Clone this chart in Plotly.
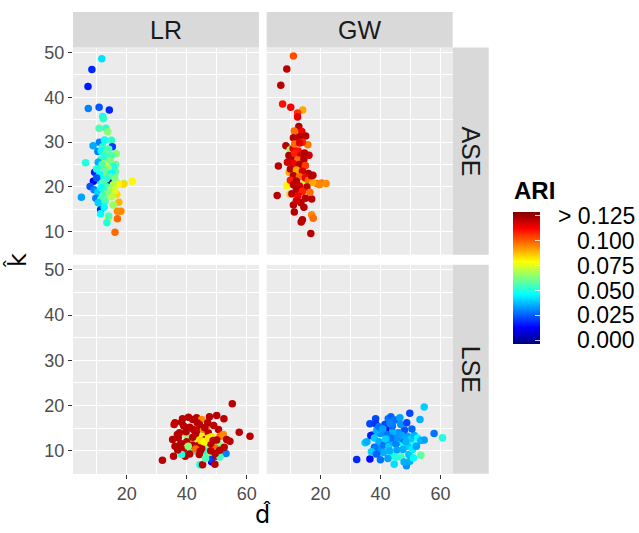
import plotly.graph_objects as go

W, H = 639, 533

# ---------------- data ----------------
facet_cols = ["LR", "GW"]
facet_rows = ["ASE", "LSE"]

lr_ase_d = [11.7, 8.4, 7.1, 7.2, 10.8, 14.2, 12.0, 12.2, 10.8, 13.1, 13.7, 10.9, 12.6, 14.9, 8.8, 15.2, 10.4, 13.5, 16.5, 6.3,
            11.3, 13.0, 13.0, 16.3, 12.2, 9.3, 13.5, 16.3, 12.2, 14.7, 8.9, 11.3, 16.6, 19.1, 21.9, 18.9, 17.3, 7.8, 9.1, 10.4,
            12.6, 14.1, 4.9, 9.7, 11.3, 16.7, 17.4, 11.5, 11.3, 16.9, 18.1, 11.3, 13.8, 16.9, 13.4, 16.1, 12.0, 14.0, 11.5, 13.0,
            15.0, 12.5, 10.5, 14.5, 11.8, 15.5, 13.8, 10.0, 12.8, 15.0, 11.0, 14.0, 16.0, 10.0, 13.2, 12.0, 15.5, 13.5, 11.5, 14.8,
            12.5, 16.0, 13.5, 12.0, 15.0, 10.5, 12.8, 15.5, 12.5, 14.0]
lr_ase_k = [48.6, 46.2, 42.4, 37.5, 37.8, 37.2, 35.7, 35.2, 33.1, 33.1, 32.3, 30.0, 30.5, 30.4, 29.2, 29.0, 27.9, 27.7, 27.4, 25.4,
            26.1, 25.6, 26.5, 25.0, 24.3, 23.3, 23.0, 23.4, 22.3, 21.3, 21.3, 21.3, 21.0, 20.8, 21.3, 20.6, 20.6, 20.1, 19.4, 18.9,
            20.2, 18.3, 17.7, 17.5, 17.2, 18.4, 16.6, 16.0, 14.9, 14.6, 14.6, 14.0, 12.9, 12.9, 12.0, 9.9, 29.0, 28.5, 28.0, 27.5,
            27.0, 26.8, 25.5, 25.8, 25.0, 24.5, 24.2, 24.0, 23.6, 23.0, 22.8, 22.4, 22.0, 22.0, 21.8, 21.0, 20.5, 20.0, 19.8, 19.5,
            19.0, 19.2, 18.5, 18.0, 17.8, 16.5, 16.8, 16.0, 15.5, 13.5]
lr_ase_ari = [0.042, 0.018, 0.016, 0.030, 0.024, 0.018, 0.048, 0.052, 0.056, 0.052, 0.064, 0.030, 0.048, 0.052, 0.035, 0.020, 0.030, 0.052, 0.064, 0.050,
              0.052, 0.080, 0.062, 0.058, 0.056, 0.018, 0.042, 0.058, 0.084, 0.000, 0.012, 0.046, 0.066, 0.066, 0.080, 0.084, 0.080, 0.024, 0.030, 0.040,
              0.100, 0.062, 0.034, 0.030, 0.050, 0.084, 0.088, 0.050, 0.018, 0.094, 0.094, 0.046, 0.080, 0.098, 0.050, 0.098, 0.052, 0.056, 0.046, 0.058,
              0.056, 0.052, 0.036, 0.062, 0.056, 0.050, 0.066, 0.050, 0.058, 0.046, 0.046, 0.056, 0.062, 0.024, 0.052, 0.056, 0.070, 0.056, 0.046, 0.066,
              0.052, 0.074, 0.062, 0.056, 0.070, 0.040, 0.056, 0.066, 0.046, 0.056]

gw_ase_d = [11.0, 8.8, 6.8, 7.4, 10.1, 14.1, 12.4, 12.4, 12.8, 13.8, 11.3, 15.1, 13.0, 8.5, 9.9, 10.9, 12.6, 15.8, 16.2, 6.0,
            9.6, 11.9, 8.8, 14.6, 9.9, 13.2, 5.6, 18.8, 20.4, 21.9, 17.1, 11.0, 11.3, 17.1, 17.6, 14.0, 13.6, 16.8, 9.5, 11.5,
            13.5, 10.5, 12.5, 14.5, 11.0, 13.0, 15.0, 10.0, 12.0, 14.0, 16.0, 11.0, 13.0, 15.0, 10.0, 12.0, 16.0, 17.5, 11.0, 13.0,
            15.5, 12.0, 14.0, 16.5, 10.5, 12.5, 15.0, 13.5, 12.0, 14.5, 17.0, 9.0, 12.0, 14.0, 11.0, 11.4, 13.1, 14.7, 17.5, 19.7]
gw_ase_k = [49.2, 46.3, 42.7, 38.5, 37.8, 37.2, 36.5, 35.6, 33.5, 32.4, 32.5, 31.4, 31.2, 29.2, 28.3, 28.6, 28.0, 29.4, 27.1, 24.7,
            23.3, 24.4, 20.3, 20.8, 18.4, 17.9, 18.1, 20.8, 20.9, 20.8, 17.3, 16.0, 14.4, 13.8, 13.0, 12.7, 12.2, 9.6, 27.0, 27.5,
            27.0, 26.0, 26.0, 26.2, 25.2, 25.0, 24.8, 24.0, 23.8, 23.5, 23.0, 22.5, 22.3, 22.0, 21.5, 21.3, 21.5, 21.0, 20.5, 20.2,
            20.0, 19.5, 19.0, 18.8, 18.5, 18.0, 17.5, 16.5, 17.0, 15.5, 22.5, 25.5, 30.5, 30.0, 31.0, 29.6, 29.8, 27.6, 22.6, 20.5]
gw_ase_ari = [0.102, 0.121, 0.121, 0.110, 0.113, 0.090, 0.106, 0.115, 0.121, 0.113, 0.098, 0.121, 0.121, 0.121, 0.066, 0.115, 0.110, 0.096, 0.118, 0.121,
              0.090, 0.106, 0.080, 0.070, 0.085, 0.070, 0.121, 0.098, 0.096, 0.094, 0.121, 0.121, 0.121, 0.094, 0.098, 0.121, 0.121, 0.121, 0.121, 0.108,
              0.117, 0.121, 0.098, 0.121, 0.113, 0.121, 0.104, 0.121, 0.090, 0.117, 0.121, 0.121, 0.098, 0.113, 0.108, 0.121, 0.098, 0.090, 0.121, 0.117,
              0.121, 0.121, 0.108, 0.098, 0.121, 0.113, 0.121, 0.121, 0.117, 0.121, 0.121, 0.117, 0.121, 0.108, 0.121, 0.098, 0.115, 0.121, 0.121, 0.094]

lr_lse_d = [31.9, 55.2, 57.5, 61.1, 53.1, 44.4, 48.3, 36.1, 35.8, 38.6, 38.3, 42.0, 43.3, 45.0, 47.6, 50.0, 52.4, 37.6, 37.2, 35.3,
            36.1, 35.6, 40.0, 41.3, 42.2, 43.4, 43.9, 45.0, 45.6, 47.2, 48.3, 46.5, 50.6, 51.1, 52.2, 53.3, 54.4, 50.8, 49.4, 46.1,
            41.1, 42.0, 38.9, 39.5, 38.3, 44.2, 46.7, 47.6, 48.3, 50.0, 51.1, 45.3, 49.4, 39.0, 41.0, 43.0, 47.0, 49.0, 44.0, 46.2,
            40.0, 42.0, 48.0, 50.0, 44.2, 46.0, 38.0, 42.0, 48.0, 45.0, 51.0, 41.0, 43.5, 39.8, 36.9, 40.6, 44.8, 45.8, 47.2, 43.0,
            44.5, 52.5, 49.5, 37.0, 46.3, 40.5, 48.8]
lr_lse_k = [7.9, 20.4, 14.1, 13.2, 9.4, 6.9, 7.6, 16.2, 15.8, 17.1, 16.3, 16.9, 17.3, 16.9, 17.5, 17.8, 17.1, 14.0, 12.9, 12.5,
            11.0, 8.8, 13.4, 11.9, 14.7, 14.5, 12.6, 13.1, 14.7, 14.0, 13.1, 15.3, 14.7, 13.2, 13.6, 12.5, 12.1, 11.4, 10.6, 11.0,
            10.3, 9.9, 10.3, 8.8, 9.2, 9.2, 9.7, 9.0, 8.1, 8.8, 8.6, 6.9, 7.0, 15.5, 15.2, 13.8, 16.2, 15.6, 11.2, 12.5,
            12.0, 11.2, 11.6, 12.4, 15.8, 15.1, 11.6, 13.0, 10.0, 10.5, 10.1, 9.3, 16.2, 14.2, 13.6, 17.4, 12.2, 12.0, 12.8, 10.4,
            9.9, 10.8, 9.4, 10.2, 8.3, 11.0, 12.3]
lr_lse_ari = [0.121, 0.121, 0.121, 0.121, 0.030, 0.050, 0.012, 0.121, 0.119, 0.121, 0.121, 0.121, 0.121, 0.094, 0.121, 0.121, 0.121, 0.121, 0.121, 0.121,
              0.121, 0.121, 0.064, 0.088, 0.121, 0.119, 0.080, 0.080, 0.094, 0.121, 0.082, 0.098, 0.121, 0.098, 0.094, 0.121, 0.121, 0.064, 0.098, 0.064,
              0.062, 0.050, 0.121, 0.121, 0.050, 0.121, 0.050, 0.064, 0.020, 0.121, 0.054, 0.121, 0.121, 0.121, 0.121, 0.121, 0.121, 0.121, 0.121, 0.121,
              0.121, 0.121, 0.121, 0.121, 0.121, 0.121, 0.121, 0.121, 0.121, 0.121, 0.121, 0.121, 0.121, 0.121, 0.121, 0.121, 0.084, 0.080, 0.082, 0.098,
              0.121, 0.121, 0.121, 0.121, 0.056, 0.064, 0.121]

gw_lse_d = [32.1, 54.6, 60.7, 57.9, 49.8, 53.2, 53.5, 44.6, 48.7, 49.8, 36.5, 38.4, 38.4, 42.6, 43.5, 44.9, 46.5, 42.1, 42.4, 36.5,
            34.9, 37.6, 47.1, 43.7, 46.9, 35.5, 36.8, 38.0, 39.5, 40.0, 41.2, 42.8, 44.0, 45.2, 46.3, 47.8, 49.0, 50.2, 51.3, 52.4,
            53.5, 54.6, 48.0, 46.0, 44.0, 42.0, 40.0, 38.8, 50.5, 51.5, 49.2, 45.5, 43.0, 41.0, 39.0, 38.0, 37.0, 47.5, 49.5, 51.0,
            45.0, 42.5, 40.0, 47.9, 44.0, 41.5, 43.2, 46.8, 39.5, 48.8, 50.7, 44.8, 45.9, 43.5, 41.8, 48.5, 52.0, 38.6, 47.2, 40.8]
gw_lse_k = [8.1, 19.7, 12.9, 13.8, 18.3, 16.9, 9.0, 7.0, 6.7, 7.7, 16.0, 17.1, 16.0, 17.1, 17.5, 16.8, 17.3, 14.6, 12.3, 8.2,
            11.8, 13.6, 11.8, 9.0, 8.6, 12.0, 13.4, 12.8, 12.0, 10.5, 11.3, 11.0, 12.0, 11.5, 12.7, 12.5, 13.2, 12.6, 13.4, 12.8,
            12.3, 12.4, 14.6, 14.0, 14.2, 13.6, 13.8, 14.6, 14.8, 11.2, 11.0, 10.2, 10.0, 9.6, 9.4, 10.8, 9.8, 10.3, 9.2, 8.4,
            8.5, 8.3, 8.0, 7.5, 15.5, 15.8, 16.2, 15.8, 15.3, 16.2, 10.3, 13.2, 13.0, 12.8, 12.6, 12.0, 11.0, 9.3, 13.4, 14.8]
gw_lse_ari = [0.018, 0.040, 0.050, 0.028, 0.022, 0.036, 0.058, 0.042, 0.032, 0.036, 0.022, 0.022, 0.020, 0.028, 0.026, 0.028, 0.034, 0.014, 0.016, 0.014,
              0.040, 0.036, 0.046, 0.046, 0.054, 0.036, 0.016, 0.040, 0.036, 0.032, 0.028, 0.040, 0.036, 0.030, 0.036, 0.026, 0.034, 0.040, 0.036, 0.046,
              0.036, 0.034, 0.024, 0.032, 0.036, 0.028, 0.032, 0.036, 0.026, 0.046, 0.040, 0.034, 0.036, 0.036, 0.032, 0.028, 0.040, 0.036, 0.038, 0.046,
              0.050, 0.034, 0.028, 0.036, 0.028, 0.022, 0.030, 0.032, 0.028, 0.022, 0.044, 0.036, 0.032, 0.028, 0.040, 0.036, 0.034, 0.026, 0.034, 0.034]

x_ticks = [20, 40, 60]
x_minor = [10, 30, 50]
y_ticks = [10, 20, 30, 40, 50]
y_minor = [15, 25, 35, 45]
x_range = [2.1, 64.1]
y_range = [4.9, 51.1]

ari_ticks = [0.000, 0.025, 0.050, 0.075, 0.100, 0.125]
ari_labels = ["0.000", "0.025", "0.050", "0.075", "0.100", "> 0.125"]
ari_min, ari_max = -0.0034, 0.1283
jet = ["#00007F", "#0000FF", "#007FFF", "#00FFFF", "#7FFF7F", "#FFFF00", "#FF7F00", "#FF0000", "#7F0000"]

# ---------------- layout geometry (pixels) ----------------
col_px = [(73.0, 259.0), (266.7, 452.7)]
row_px = [(43.0, 252.0), (262.3, 473.3)]
strip_top = (7.0, 43.0)
strip_right = (452.7, 488.7)

def fx(p):
    return p / W

def fy(p):
    return 1 - p / H

font_fam = "Liberation Sans, Arial, sans-serif"
title_fam = "DejaVu Sans, Liberation Sans, sans-serif"

panels = [
    (0, 0, lr_ase_d, lr_ase_k, lr_ase_ari),
    (0, 1, gw_ase_d, gw_ase_k, gw_ase_ari),
    (1, 0, lr_lse_d, lr_lse_k, lr_lse_ari),
    (1, 1, gw_lse_d, gw_lse_k, gw_lse_ari),
]

fig = go.Figure()
layout_axes = {}
for i, (r, c, xs, ys, cs) in enumerate(panels):
    n = i + 1
    xname = "x" if n == 1 else f"x{n}"
    yname = "y" if n == 1 else f"y{n}"
    fig.add_trace(go.Scatter(
        x=xs, y=ys, mode="markers", xaxis=xname, yaxis=yname,
        marker=dict(size=7.5, color=cs, coloraxis="coloraxis", line=dict(width=0)),
        showlegend=False, hoverinfo="skip",
    ))
    bottom = (r == 1)
    left = (c == 0)
    layout_axes["xaxis" if n == 1 else f"xaxis{n}"] = dict(
        domain=[fx(col_px[c][0]), fx(col_px[c][1])], anchor=yname,
        range=x_range, tickvals=x_ticks, showticklabels=bottom,
        ticks="outside" if bottom else "", ticklen=4, tickwidth=1, tickcolor="#333333",
        tickfont=dict(family=font_fam, size=18, color="#4D4D4D"),
        showgrid=True, gridcolor="white", gridwidth=1.1, zeroline=False, showline=False,
        minor=dict(tickvals=x_minor, showgrid=True, gridcolor="white", gridwidth=0.5, ticks=""),
        fixedrange=True,
    )
    layout_axes["yaxis" if n == 1 else f"yaxis{n}"] = dict(
        domain=[fy(row_px[r][1]), fy(row_px[r][0])], anchor=xname,
        range=y_range, tickvals=y_ticks, showticklabels=left,
        ticks="outside" if left else "", ticklen=4, tickwidth=1, tickcolor="#333333",
        tickfont=dict(family=font_fam, size=18, color="#4D4D4D"),
        showgrid=True, gridcolor="white", gridwidth=1.1, zeroline=False, showline=False,
        minor=dict(tickvals=y_minor, showgrid=True, gridcolor="white", gridwidth=0.5, ticks=""),
        fixedrange=True,
    )

shapes = []
annotations = []
# strips on top
for c, lab in enumerate(facet_cols):
    shapes.append(dict(type="rect", xref="paper", yref="paper",
                       x0=fx(col_px[c][0]), x1=fx(col_px[c][1]),
                       y0=fy(strip_top[1]), y1=fy(strip_top[0]),
                       fillcolor="#D9D9D9", line=dict(width=0), layer="below"))
    annotations.append(dict(text=lab, xref="paper", yref="paper",
                            x=fx((col_px[c][0] + col_px[c][1]) / 2),
                            y=fy((strip_top[0] + strip_top[1]) / 2),
                            showarrow=False, xanchor="center", yanchor="middle",
                            font=dict(family=font_fam, size=25, color="#1A1A1A")))
# strips on right
for r, lab in enumerate(facet_rows):
    shapes.append(dict(type="rect", xref="paper", yref="paper",
                       x0=fx(strip_right[0]), x1=fx(strip_right[1]),
                       y0=fy(row_px[r][1]), y1=fy(row_px[r][0]),
                       fillcolor="#D9D9D9", line=dict(width=0), layer="below"))
    annotations.append(dict(text=lab, xref="paper", yref="paper",
                            x=fx((strip_right[0] + strip_right[1]) / 2),
                            y=fy((row_px[r][0] + row_px[r][1]) / 2),
                            showarrow=False, xanchor="center", yanchor="middle", textangle=90,
                            font=dict(family=font_fam, size=25, color="#1A1A1A")))

# axis titles
annotations.append(dict(text="d\u0302", xref="paper", yref="paper",
                        x=fx((col_px[0][0] + col_px[1][1]) / 2), y=fy(515),
                        showarrow=False, xanchor="center", yanchor="middle",
                        font=dict(family=title_fam, size=24, color="black")))
annotations.append(dict(text="k\u0302", xref="paper", yref="paper",
                        x=fx(17), y=fy((row_px[0][0] + row_px[1][1]) / 2),
                        showarrow=False, xanchor="center", yanchor="middle", textangle=-90,
                        font=dict(family=title_fam, size=24, color="black")))

# colorbar geometry
cb_top, cb_bot = 210.0, 341.7
cb_left, cb_w = 512.7, 27.0
annotations.append(dict(text="<b>ARI</b>", xref="paper", yref="paper",
                        x=fx(cb_left - 1), y=fy(187), showarrow=False,
                        xanchor="left", yanchor="middle",
                        font=dict(family=font_fam, size=24, color="black")))
for v, lab in zip(ari_ticks, ari_labels):
    ypix = cb_top + (ari_max - v) / (ari_max - ari_min) * (cb_bot - cb_top)
    annotations.append(dict(text=lab, xref="paper", yref="paper",
                            x=fx(637), y=fy(ypix), showarrow=False,
                            xanchor="right", yanchor="middle",
                            font=dict(family=font_fam, size=23, color="black")))

colorscale = [[i / (len(jet) - 1), col] for i, col in enumerate(jet)]

fig.update_layout(
    width=W, height=H,
    margin=dict(l=0, r=0, t=0, b=0),
    paper_bgcolor="white", plot_bgcolor="#EBEBEB",
    shapes=shapes, annotations=annotations,
    coloraxis=dict(
        colorscale=colorscale, cmin=ari_min, cmax=ari_max,
        colorbar=dict(
            x=fx(cb_left), xanchor="left", xpad=0, ypad=0,
            y=fy((cb_top + cb_bot) / 2), yanchor="middle",
            len=cb_bot - cb_top, lenmode="pixels",
            thickness=cb_w, thicknessmode="pixels",
            outlinewidth=0, tickvals=ari_ticks, showticklabels=False,
            ticks="inside", ticklen=5, tickcolor="rgba(255,255,255,0.8)", tickwidth=1,
        ),
    ),
    **layout_axes,
)

fig.write_html(
    "out.html",
    config={"displayModeBar": False},
    post_script=(
        "document.body.style.margin='0';document.body.style.padding='0';"
        "document.body.style.overflow='hidden';"
        "var gd=document.getElementById('{plot_id}');"
        "gd.style.position='absolute';gd.style.top='0px';gd.style.left='0px';"
    ),
)
